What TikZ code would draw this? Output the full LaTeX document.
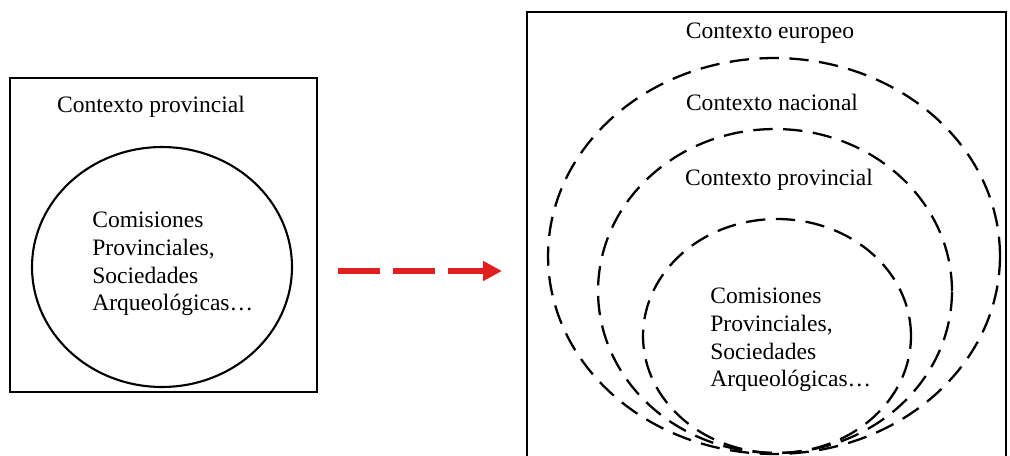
\documentclass[tikz,border=0pt]{standalone}
\usepackage{fontspec}
\setmainfont{Liberation Serif}
\usetikzlibrary{arrows.meta, shapes.geometric}
\definecolor{arrowRed}{HTML}{E0201E}

\begin{document}
\begin{tikzpicture}[x=0.02cm, y=-0.02cm,
  frame/.style={draw, line width=1.2pt, inner sep=0pt},
  ring/.style={ellipse, draw, line width=1.2pt, inner sep=0pt},
  dashring/.style={ring, line width=1.3pt, dash pattern=on 11pt off 6pt},
  lbl/.style={font=\fontsize{13.4}{15.7}\selectfont, inner sep=0pt},
  group/.style={lbl, align=left, anchor=north west},
  arr/.style={-{Triangle[length=0.38cm, width=0.38cm]}, line width=3pt, arrowRed,
    dash pattern=on 0.84cm off 0.26cm}
]
\useasboundingbox (0,0) rectangle (1010,456);
\clip (0,0) rectangle (1010,456);
\node[frame, minimum width=6.14cm, minimum height=6.28cm] (leftBox) at (163.5,235) {};
\node[ring, minimum width=5.2cm, minimum height=4.8cm] (leftCircle) at (162,267) {};
\node[lbl] (leftTitle) at (151,107) {Contexto provincial};
\node[group] (leftGroup) at (92,212) {Comisiones\\Provinciales,\\Sociedades\\Arqueológicas\dots};
\node[frame, minimum width=9.58cm, minimum height=9.36cm] (rightBox) at (766.5,246) {};
\node[dashring, minimum width=9.04cm, minimum height=7.92cm] (europe) at (774,256) {};
\node[dashring, minimum width=7.08cm, minimum height=6.48cm] (nation) at (775,291) {};
\node[dashring, minimum width=5.36cm, minimum height=4.68cm] (province) at (777,336) {};
\node[lbl] (europeLabel) at (770,33) {Contexto europeo};
\node[lbl] (nationLabel) at (772,102) {Contexto nacional};
\node[lbl] (provinceLabel) at (779,180) {Contexto provincial};
\node[group] (rightGroup) at (710,288) {Comisiones\\Provinciales,\\Sociedades\\Arqueológicas\dots};
\coordinate (arrowStart) at (338,271);
\coordinate (arrowEnd) at (502,271);
\draw[arr] (arrowStart) -- (arrowEnd);
\end{tikzpicture}
\end{document}
